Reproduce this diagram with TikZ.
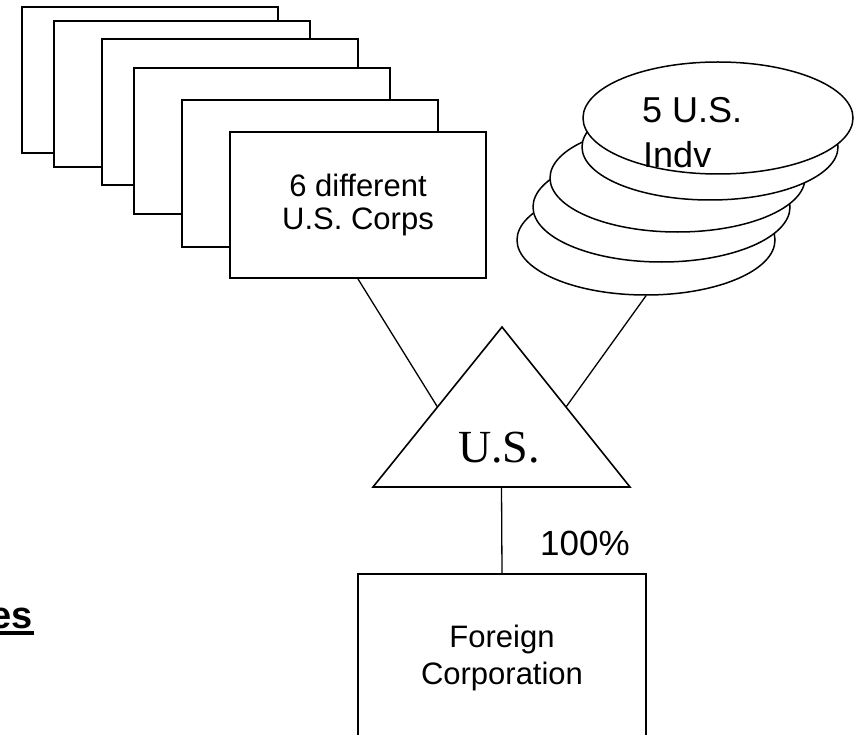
\documentclass[tikz,border=0pt]{standalone}
\usepackage{fontspec}
\setmainfont{Liberation Sans}
\newfontfamily\serifus{Liberation Serif}
\usetikzlibrary{shapes.geometric,calc}
\tikzset{
  corp/.style={draw, line width=2pt, fill=white, minimum width=256pt, minimum height=146pt, inner sep=0pt},
  indv/.style={draw, ellipse, line width=1.5pt, fill=white, inner sep=0pt},
  conn/.style={line width=1.3pt},
  boxtext/.style={font=\fontsize{31}{33}\selectfont, align=center},
}
\begin{document}
\begin{tikzpicture}[x=1pt,y=-1pt]
\useasboundingbox (0,0) rectangle (858,735);
% stacked corporations
\node[corp] (c1) at (150,80) {};
\node[corp] (c2) at (181.5,94) {};
\node[corp] (c3) at (230,112) {};
\node[corp] (c4) at (262,141.5) {};
\node[corp] (c5) at (310,173.5) {};
\node[corp, boxtext] (c6) at (358,205) {6 different\\U.S. Corps};
% stacked individuals
\node[indv, minimum width=258pt, minimum height=110pt] (e5) at (646,240) {};
\node[indv, minimum width=257pt, minimum height=110pt] (e4) at (661.5,207) {};
\node[indv, minimum width=255pt, minimum height=108pt] (e3) at (677.5,178) {};
\node[indv, minimum width=256pt, minimum height=106pt] (e2) at (710,147) {};
\node[indv, minimum width=270pt, minimum height=112pt] (e1) at (718,118) {};
\node[anchor=base west, inner sep=0pt, font=\fontsize{36}{45}\selectfont] (ind1) at (642,123) {5 U.S.};
\node[anchor=base west, inner sep=0pt, font=\fontsize{36}{45}\selectfont] (ind2) at (643,168) {Indv};
% triangle
\coordinate (apex) at (502,327);
\coordinate (bl) at (373,487);
\coordinate (br) at (630,487);
\draw[line width=1.6pt, line join=miter] (apex) -- (br) -- (bl) -- cycle;
\node[anchor=base, inner sep=0pt, font=\serifus\fontsize{46}{50}\selectfont] (us) at (499,462) {U.S.};
\coordinate (tl) at ($(bl)!0.5!(apex)$);
\coordinate (tr) at ($(br)!0.5!(apex)$);
\coordinate (tb) at ($(bl)!0.5!(br)$);
% foreign corporation
\node[draw, line width=2pt, minimum width=288pt, minimum height=168pt, inner sep=0pt, align=center, font=\fontsize{31}{37}\selectfont] (fc) at (502,658) {Foreign\\Corporation};
\node[anchor=base west, inner sep=0pt, font=\fontsize{35}{40}\selectfont] (pct) at (540,555) {100\%};
% connectors
\draw[conn] (c6.south) -- (tl);
\draw[conn] (e5.south) -- (tr);
\draw[conn] (tb) -- (fc.north);
% heading fragment, cut by the left edge as in the reference
\node[anchor=base east, inner sep=0pt, font=\bfseries\fontsize{38}{42}\selectfont] (es) at (33,628) {es};
\draw[line width=3.5pt] (es.base east) ++(1,5) coordinate (ulr) -- ++(-60,0) coordinate (ull);
\end{tikzpicture}
\end{document}
